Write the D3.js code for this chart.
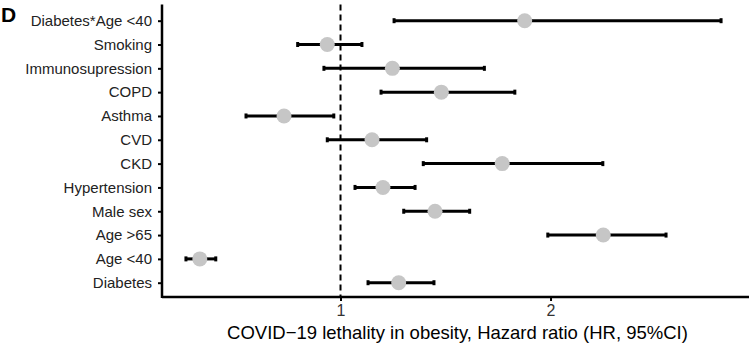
<!DOCTYPE html>
<html>
<head>
<meta charset="utf-8">
<script src="https://cdn.jsdelivr.net/npm/d3@7"></script>
<style>
    body { margin: 0; background: #fff; }
    text { font-family: "Liberation Sans", Arial, sans-serif; }
</style>
</head>
<body>
<div id="chart"></div>
<script>
// top to bottom, as in the figure
let factors = ["Diabetes*Age <40", "Smoking", "Immunosupression", "COPD", "Asthma", "CVD",
    "CKD", "Hypertension", "Male sex", "Age >65", "Age <40", "Diabetes"]
let hr = [1.877, 0.937, 1.247, 1.48, 0.731, 1.15, 1.77, 1.202, 1.45, 2.251, 0.33, 1.277]
let ciLow = [1.255, 0.796, 0.921, 1.193, 0.55, 0.937, 1.394, 1.069, 1.301, 1.987, 0.264, 1.131]
let ciHigh = [2.812, 1.102, 1.685, 1.83, 0.968, 1.41, 2.249, 1.355, 1.615, 2.55, 0.406, 1.445]
let xTicks = [1, 2]

const width = 749, height = 346
const plotLeft = 162, plotRight = 749, plotTop = 6.4, plotBottom = 297

let rows = factors.map((f, i) => ({ name: f, hr: hr[i], lo: ciLow[i], hi: ciHigh[i] }))

let svg = d3.select('#chart')
    .append('svg')
    .attr('width', width)
    .attr('height', height)

let x = d3.scaleLinear().domain([0.15, 2.945]).range([plotLeft, plotRight])
let y = d3.scalePoint().domain(factors).range([plotTop, plotBottom]).padding(0.6)

// reference line at HR = 1
svg.append('line')
    .attr('x1', x(1)).attr('x2', x(1))
    .attr('y1', plotTop - 2).attr('y2', plotBottom)
    .attr('stroke', '#000')
    .attr('stroke-width', 2)
    .attr('stroke-dasharray', '6,4')

// confidence intervals
let bars = svg.append('g')
    .selectAll('g')
    .data(rows)
    .join('g')

bars.append('line')
    .attr('x1', d => x(d.lo))
    .attr('x2', d => x(d.hi))
    .attr('y1', d => y(d.name))
    .attr('y2', d => y(d.name))
    .attr('stroke', '#000')
    .attr('stroke-width', 3)

bars.selectAll('.cap')
    .data(d => [[d.lo, d.name], [d.hi, d.name]])
    .join('line')
    .attr('class', 'cap')
    .attr('x1', d => x(d[0]))
    .attr('x2', d => x(d[0]))
    .attr('y1', d => y(d[1]) - 2.5)
    .attr('y2', d => y(d[1]) + 2.5)
    .attr('stroke', '#000')
    .attr('stroke-width', 3)

// point estimates
svg.append('g')
    .selectAll('circle')
    .data(rows)
    .join('circle')
    .attr('cx', d => x(d.hr))
    .attr('cy', d => y(d.name))
    .attr('r', 7.5)
    .attr('fill', '#c6c6c6')

// axes
let xAxis = svg.append('g')
    .attr('transform', `translate(0,${plotBottom})`)
    .call(d3.axisBottom(x).tickValues(xTicks).tickFormat(d3.format('d')).tickSize(4).tickPadding(4))
xAxis.select('.domain').attr('stroke', '#000').attr('stroke-width', 2.5)
    .attr('d', `M${plotLeft},0H${plotRight}`)
xAxis.selectAll('.tick line').attr('stroke', '#000').attr('stroke-width', 2)
xAxis.selectAll('.tick text')
    .attr('font-size', 16)
    .attr('fill', '#333')
    .style('font-family', '"Liberation Sans", Arial, sans-serif')

let yAxis = svg.append('g')
    .attr('transform', `translate(${plotLeft},0)`)
    .call(d3.axisLeft(y).tickSize(4).tickPadding(6))
yAxis.select('.domain').attr('stroke', '#000').attr('stroke-width', 2.5)
    .attr('d', `M0,${plotTop - 2}V${plotBottom + 1}`)
yAxis.selectAll('.tick line').attr('stroke', '#000').attr('stroke-width', 2)
yAxis.selectAll('.tick text')
    .attr('font-size', 15)
    .attr('fill', '#222')
    .style('font-family', '"Liberation Sans", Arial, sans-serif')

// axis title
svg.append('text')
    .text('COVID\u221219 lethality in obesity, Hazard ratio (HR, 95%CI)')
    .attr('x', (plotLeft + plotRight) / 2 + 2)
    .attr('y', 339)
    .attr('text-anchor', 'middle')
    .attr('font-size', 18.5)
    .attr('fill', '#000')

// panel letter
svg.append('text')
    .text('D')
    .attr('x', 1)
    .attr('y', 22)
    .attr('font-size', 21)
    .attr('font-weight', 'bold')
    .attr('fill', '#000')
</script>
</body>
</html>
